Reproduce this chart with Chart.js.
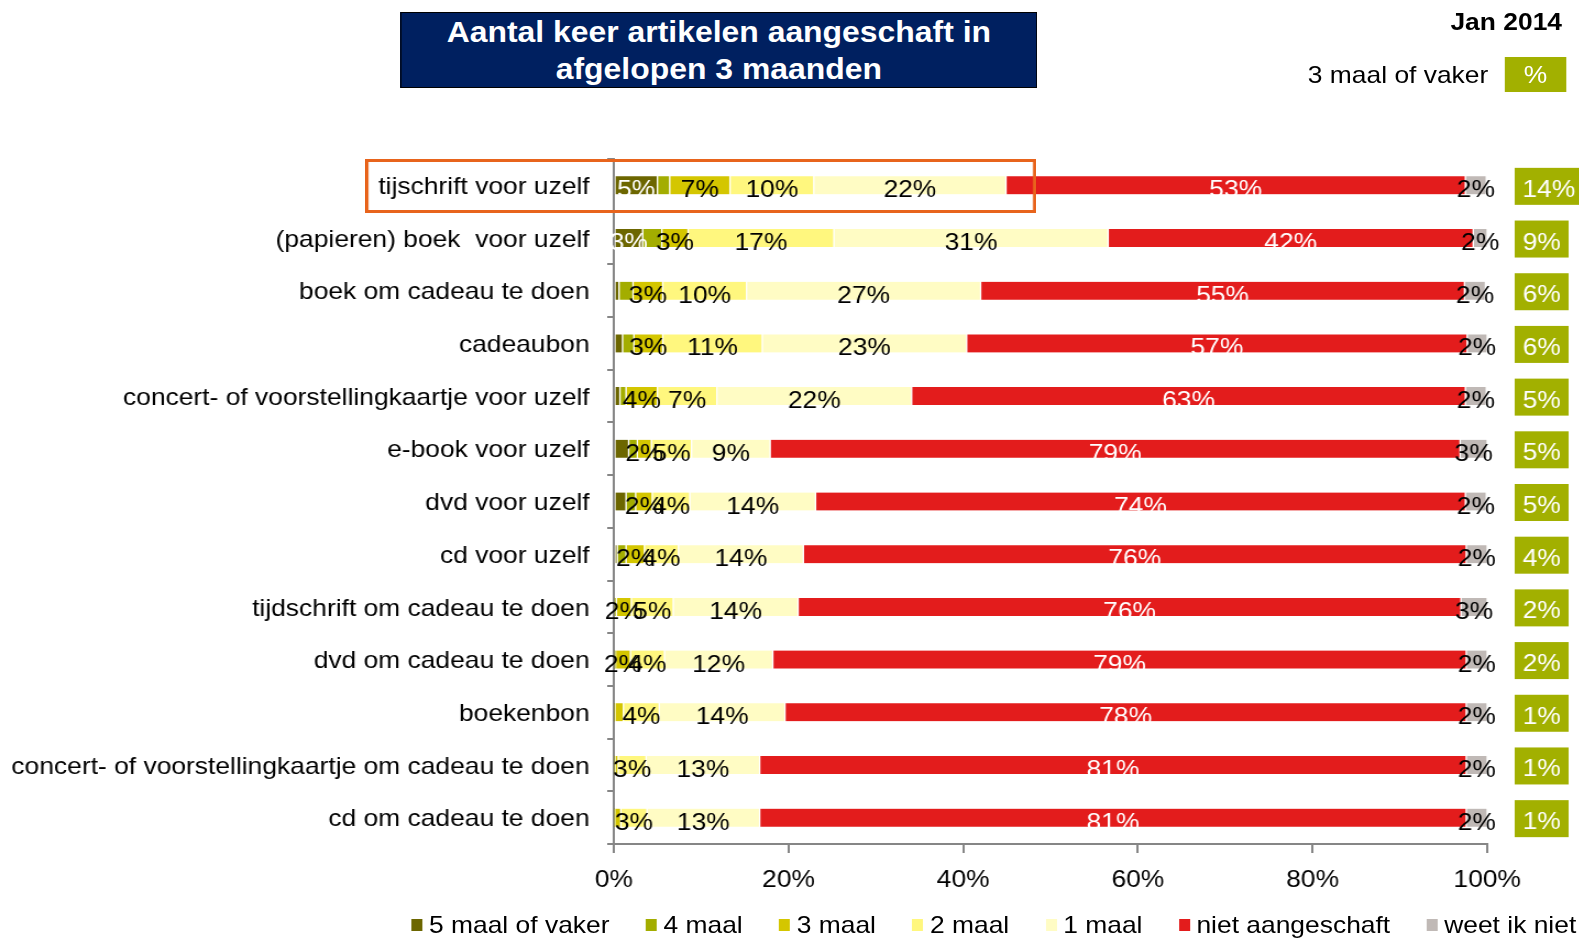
<!DOCTYPE html>
<html lang="nl">
<head>
<meta charset="utf-8">
<title>Aantal keer artikelen aangeschaft in afgelopen 3 maanden</title>
<script src="https://cdn.jsdelivr.net/npm/chart.js@4.4.1/dist/chart.umd.min.js"></script>
<style>
  html, body { margin: 0; padding: 0; background: #fff; overflow: hidden; }
  body { width: 1579px; height: 938px; position: relative; font-family: "Liberation Sans", Arial, sans-serif; color: #000; }
  /* The source picture is stretched about 10% in width: draw narrow, then stretch. */
  #stage { position: absolute; left: 0; top: 0; width: 1436px; height: 938px; transform: scaleX(1.1); transform-origin: 0 0; }
  #chart { position: absolute; left: 0; top: 0; }
  #title { position: absolute; left: 364px; top: 12px; width: 579px; height: 76px; box-sizing: border-box;
           background: #002060; border: 1.5px solid #000; color: #fff; font-weight: bold; font-size: 29px;
           line-height: 37px; text-align: center; padding-top: 1px; }
  #date { position: absolute; right: 16px; top: 8px; font-weight: bold; font-size: 24px; line-height: 28px; }
  #head { position: absolute; top: 57px; right: 12px; height: 35px; display: flex; align-items: center; font-size: 24px; }
  #head span { background: #a2b000; color: #fff; width: 56px; height: 35px; line-height: 35px; text-align: center; margin-left: 15px; }
  #focus { position: absolute; left: 332px; top: 159px; width: 610px; height: 54px; box-sizing: border-box; border: 3px solid #e8641c; }
  #legend { position: absolute; left: 374px; width: 1059px; top: 911px; display: flex; justify-content: space-between;
            font-size: 24px; line-height: 28px; }
  #legend .item { display: flex; align-items: center; white-space: nowrap; }
  #legend i { display: inline-block; width: 10px; height: 12px; margin-right: 6px; }
</style>
</head>
<body>
<div id="stage">
  <canvas id="chart" width="1436" height="938" style="width:1436px;height:938px"></canvas>
  <div id="title">Aantal keer artikelen aangeschaft in<br>afgelopen 3 maanden</div>
  <div id="date">Jan 2014</div>
  <div id="head">3 maal of vaker<span>%</span></div>
  <div id="focus"></div>
  <div id="legend"></div>
</div>
<script>
// Categories, top to bottom.
var categories = [
  "tijschrift voor uzelf",
  "(papieren) boek  voor uzelf",
  "boek om cadeau te doen",
  "cadeaubon",
  "concert- of voorstellingkaartje voor uzelf",
  "e-book voor uzelf",
  "dvd voor uzelf",
  "cd voor uzelf",
  "tijdschrift om cadeau te doen",
  "dvd om cadeau te doen",
  "boekenbon",
  "concert- of voorstellingkaartje om cadeau te doen",
  "cd om cadeau te doen"
];

var seriesNames = ["5 maal of vaker", "4 maal", "3 maal", "2 maal", "1 maal", "niet aangeschaft", "weet ik niet"];
var seriesColors = ["#6c6600", "#a3ad00", "#d4c600", "#fff77e", "#fffcc4", "#e31c1c", "#c0b9b6"];

// Percentages per category.
var vijfOfVaker = [5.0, 3.3, 0.6, 1.0, 0.7, 1.7, 1.4, 0.4, 0, 0, 0, 0, 0];
var vierMaal    = [1.4, 2.2, 1.6, 1.3, 0.7, 1.0, 1.1, 1.0, 0.3, 0.2, 0, 0, 0.1];
var drieMaal    = [6.9, 3.0, 3.4, 3.3, 3.6, 1.6, 1.9, 2.1, 1.7, 1.7, 1.1, 0.5, 0.7];
var tweeMaal    = [9.6, 16.7, 9.6, 11.4, 6.8, 4.6, 4.3, 3.9, 4.8, 3.9, 4.1, 3.2, 3.0];
var eenMaal     = [22.0, 31.4, 26.8, 23.4, 22.3, 9.0, 14.4, 14.3, 14.3, 12.4, 14.4, 13.0, 12.9];
var nietAangeschaft = [52.6, 41.8, 55.4, 57.3, 63.4, 79.0, 74.4, 75.9, 75.9, 79.4, 78.0, 80.9, 80.9];
var weetIkNiet  = [2.4, 1.6, 2.4, 2.3, 2.4, 3.1, 2.4, 2.4, 3.0, 2.4, 2.4, 2.4, 2.4];

// Right-hand column: "3 maal of vaker" %.
var driemaalOfVaker = [14, 9, 6, 6, 5, 5, 5, 4, 2, 2, 1, 1, 1];

var xTickLabels = ["0%", "20%", "40%", "60%", "80%", "100%"];

(function () {
  "use strict";

  var FAMILY = '"Liberation Sans", Arial, sans-serif';
  var FONT = "24px " + FAMILY;
  var AXIS = "#868686";
  var OLIVE = "#a2b000";

  // Which segments carry a value label, and in what colour.
  var labelRule = [
    { min: 2.5, color: "#fff" },
    null,
    { min: 1.5, color: "#000" },
    { min: 0, color: "#000" },
    { min: 0, color: "#000" },
    { min: 0, color: "#fff" },
    { min: 0, color: "#000" }
  ];

  var barLabels = {
    id: "barLabels",
    afterDatasetsDraw: function (chart) {
      var ctx = chart.ctx;
      ctx.save();
      ctx.font = FONT;
      ctx.textAlign = "center";
      ctx.textBaseline = "alphabetic";
      chart.data.datasets.forEach(function (ds, i) {
        var rule = labelRule[i];
        if (!rule) return;
        chart.getDatasetMeta(i).data.forEach(function (bar, j) {
          var v = ds.data[j];
          if (!v || v < rule.min) return;
          ctx.fillStyle = rule.color;
          ctx.fillText(Math.round(v) + "%", (bar.x + bar.base) / 2, bar.y + 12);
        });
      });
      ctx.restore();
    }
  };

  // Olive boxes with the "3 maal of vaker" share, one per row.
  var vakerColumn = {
    id: "vakerColumn",
    afterDraw: function (chart) {
      var ctx = chart.ctx;
      var y = chart.scales.y;
      var left = chart.chartArea.right + 25;
      ctx.save();
      ctx.font = FONT;
      ctx.textAlign = "center";
      ctx.textBaseline = "alphabetic";
      driemaalOfVaker.forEach(function (v, j) {
        var cy = y.getPixelForValue(j) + 1;
        var txt = v + "%";
        var w = Math.max(49, ctx.measureText(txt).width + 14);
        ctx.fillStyle = OLIVE;
        ctx.fillRect(left, cy - 18.5, w, 37);
        ctx.fillStyle = "#fff";
        ctx.fillText(txt, left + w / 2, cy + 10.5);
      });
      ctx.restore();
    }
  };

  var values = [vijfOfVaker, vierMaal, drieMaal, tweeMaal, eenMaal, nietAangeschaft, weetIkNiet];
  var datasets = values.map(function (data, i) {
    return {
      label: seriesNames[i],
      data: data,
      backgroundColor: seriesColors[i],
      borderColor: "#fff",
      borderWidth: { left: 1, right: 1, top: 0, bottom: 0 },
      borderSkipped: false,
      barThickness: 18
    };
  });

  new Chart(document.getElementById("chart"), {
    type: "bar",
    data: { labels: categories, datasets: datasets },
    plugins: [barLabels, vakerColumn],
    options: {
      indexAxis: "y",
      responsive: false,
      animation: false,
      devicePixelRatio: 1,
      layout: { padding: { left: 0, right: 84, top: 159, bottom: 0 } },
      plugins: { legend: { display: false }, tooltip: { enabled: false } },
      scales: {
        x: {
          stacked: true,
          min: 0,
          max: 100,
          border: { display: true, color: AXIS, width: 2 },
          grid: { drawOnChartArea: false, drawTicks: true, tickLength: 9, color: AXIS, lineWidth: 2 },
          ticks: {
            stepSize: 20,
            color: "#000",
            padding: 13,
            font: { family: FAMILY, size: 24 },
            callback: function (v, i) { return xTickLabels[i]; }
          },
          afterFit: function (s) { s.height = 94; }
        },
        y: {
          stacked: true,
          offset: true,
          border: { display: true, color: AXIS, width: 2 },
          grid: { offset: true, drawOnChartArea: false, drawTicks: true, tickLength: 6, color: AXIS, lineWidth: 2 },
          ticks: {
            autoSkip: false,
            color: "#000",
            padding: 16,
            labelOffset: 2,
            font: { family: FAMILY, size: 24 }
          },
          afterFit: function (s) { s.width = 558; }
        }
      }
    }
  });

  // Legend in the markup, built from the series.
  var legend = document.getElementById("legend");
  seriesNames.forEach(function (name, i) {
    var item = document.createElement("span");
    item.className = "item";
    var box = document.createElement("i");
    box.style.background = seriesColors[i];
    item.appendChild(box);
    item.appendChild(document.createTextNode(name));
    legend.appendChild(item);
  });
})();
</script>
</body>
</html>
